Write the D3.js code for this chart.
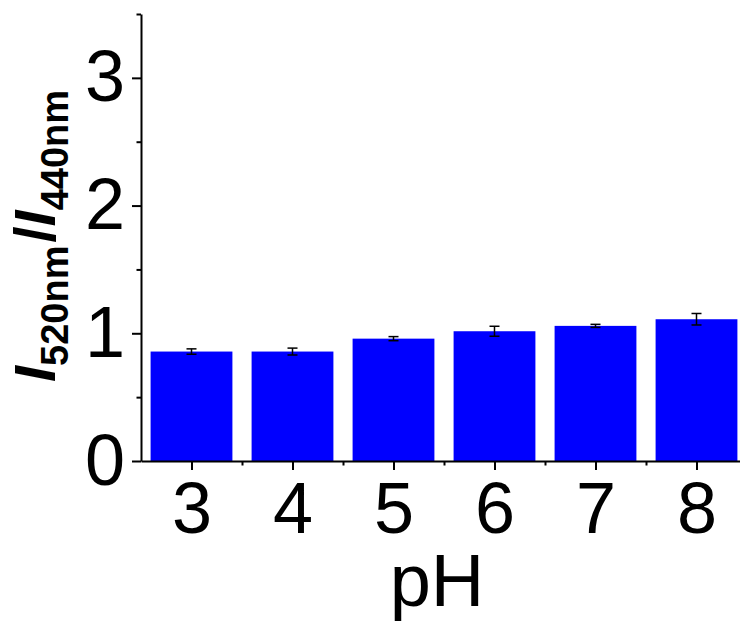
<!doctype html>
<meta charset="utf-8">
<style>
body { margin: 0; background: #fff; }
svg { display: block; font-family: "Liberation Sans", Arial, sans-serif; }
.axis text { font-size: 72px; fill: #000; }
.axis path, .axis line { stroke: #000; stroke-width: 2; }
</style>
<body>
<div id="chart"></div>
<script src="https://d3js.org/d3.v7.min.js"></script>
<script>
  // data
  var pH = [3, 4, 5, 6, 7, 8];
  var ratio = [0.857, 0.857, 0.958, 1.016, 1.058, 1.11];
  var err = [0.021, 0.027, 0.016, 0.039, 0.012, 0.045];
  var yTicks = [0, 1, 2, 3];
  var yMinor = [0.5, 1.5, 2.5, 3.5];
  var xMinor = [3.5, 4.5, 5.5, 6.5, 7.5];

  var W = 740, H = 621;
  var svg = d3.select("#chart").append("svg")
    .attr("width", W)
    .attr("height", H);

  let x = d3.scaleLinear().domain([2.5, 8.5]).range([141, 747]);
  let y = d3.scaleLinear().domain([0, 3.5]).range([461, 14]);
  let barW = 0.81 * (x(1) - x(0));

  // bars
  svg.selectAll("rect.bar")
    .data(pH)
    .enter()
    .append("rect")
    .attr("class", "bar")
    .attr("x", d => x(d) - barW / 2)
    .attr("width", barW)
    .attr("y", (d, i) => y(ratio[i]))
    .attr("height", (d, i) => y(0) - y(ratio[i]))
    .attr("fill", "#0000ff");

  // error bars
  let eb = svg.selectAll("g.err")
    .data(pH)
    .enter()
    .append("g")
    .attr("class", "err")
    .attr("stroke", "#000")
    .attr("stroke-width", 1.5);
  eb.append("line")
    .attr("x1", d => x(d)).attr("x2", d => x(d))
    .attr("y1", (d, i) => y(ratio[i] - err[i]))
    .attr("y2", (d, i) => y(ratio[i] + err[i]));
  [-1, 1].forEach(s => {
    eb.append("line")
      .attr("x1", d => x(d) - 5).attr("x2", d => x(d) + 5)
      .attr("y1", (d, i) => y(ratio[i] + s * err[i]))
      .attr("y2", (d, i) => y(ratio[i] + s * err[i]));
  });

  // x axis
  svg.append("g")
    .attr("class", "axis")
    .attr("transform", "translate(0," + y(0) + ")")
    .call(d3.axisBottom(x).tickValues(pH).tickSize(9).tickSizeOuter(0).tickPadding(12).tickFormat(d3.format("d")));
  svg.append("g")
    .attr("class", "axis")
    .attr("transform", "translate(0," + y(0) + ")")
    .call(d3.axisBottom(x).tickValues(xMinor).tickSize(4.5).tickSizeOuter(0).tickFormat(""))
    .select(".domain").remove();

  // y axis
  svg.append("g")
    .attr("class", "axis")
    .attr("transform", "translate(" + x(2.5) + ",0)")
    .call(d3.axisLeft(y).tickValues(yTicks).tickSize(9).tickSizeOuter(0).tickPadding(7).tickFormat(d3.format("d")));
  svg.append("g")
    .attr("class", "axis")
    .attr("transform", "translate(" + x(2.5) + ",0)")
    .call(d3.axisLeft(y).tickValues(yMinor).tickSize(4.5).tickSizeOuter(0).tickFormat(""))
    .select(".domain").remove();

  // axis titles
  svg.append("text")
    .attr("x", 437)
    .attr("y", 606)
    .attr("text-anchor", "middle")
    .attr("font-size", 74)
    .text("pH");

  let yl = svg.append("text")
    .attr("transform", "translate(55,236) rotate(-90)")
    .attr("text-anchor", "middle")
    .attr("font-weight", "bold")
    .attr("font-size", 58);
  yl.append("tspan").attr("font-style", "italic").text("I");
  yl.append("tspan").attr("font-size", 38).attr("dy", 13).text("520nm");
  yl.append("tspan").attr("dy", -13).attr("dx", 3).text("/");
  yl.append("tspan").attr("font-style", "italic").text("I");
  yl.append("tspan").attr("font-size", 38).attr("dy", 13).text("440nm");
</script>
</body>
